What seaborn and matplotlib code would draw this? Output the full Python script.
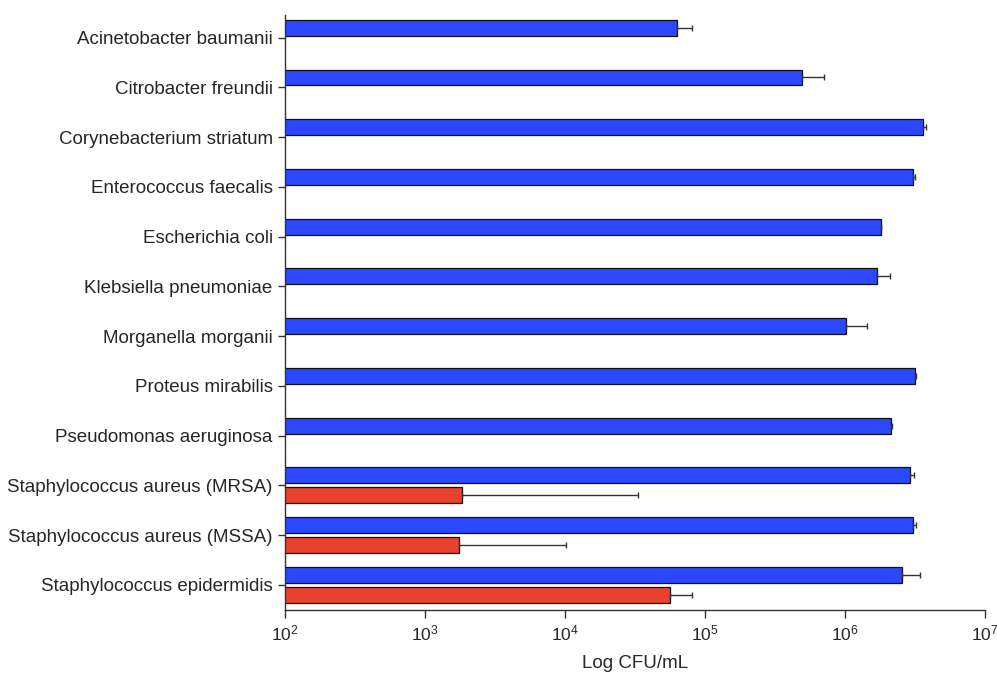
import matplotlib
matplotlib.use('Agg')
import matplotlib.pyplot as plt
import matplotlib.ticker as mticker
import seaborn as sns
import pandas as pd
import numpy as np

# data (CFU/mL), upper error ends
species = ['Acinetobacter baumanii', 'Citrobacter freundii', 'Corynebacterium striatum',
           'Enterococcus faecalis', 'Escherichia coli', 'Klebsiella pneumoniae',
           'Morganella morganii', 'Proteus mirabilis', 'Pseudomonas aeruginosa',
           'Staphylococcus aureus (MRSA)', 'Staphylococcus aureus (MSSA)',
           'Staphylococcus epidermidis']
blue_vals = [6.3e4, 4.9e5, 3.6e6, 3.05e6, 1.8e6, 1.69e6, 1.02e6, 3.14e6, 2.12e6, 2.89e6, 3.05e6, 2.54e6]
blue_upper = [8.0e4, 7.1e5, 3.8e6, 3.16e6, 1.8e6, 2.08e6, 1.44e6, 3.2e6, 2.17e6, 3.09e6, 3.21e6, 3.44e6]
red_species = ['Staphylococcus aureus (MRSA)', 'Staphylococcus aureus (MSSA)', 'Staphylococcus epidermidis']
red_vals = [1.84e3, 1.76e3, 5.6e4]
red_upper = [3.33e4, 1.02e4, 8.0e4]

groups = ['A', 'B']
colors = ['#2B48FF', '#E8412E']

df = pd.concat([
    pd.DataFrame({'species': species, 'group': 'A', 'cfu': blue_vals, 'upper': blue_upper}),
    pd.DataFrame({'species': red_species, 'group': 'B', 'cfu': red_vals, 'upper': red_upper}),
], ignore_index=True)

sns.set_style('ticks')
plt.rcParams['font.family'] = ['Liberation Sans', 'DejaVu Sans']
plt.rcParams['mathtext.default'] = 'regular'

fig = plt.figure(figsize=(9.97, 6.73), dpi=100)
ax = fig.add_axes([0.286, 0.094, 0.702, 0.884])
ax.set_xscale('log')

sns.barplot(data=df, y='species', x='cfu', hue='group', order=species, hue_order=groups,
            palette=colors, saturation=1, orient='h', width=0.8, gap=0.2, errorbar=None,
            edgecolor='#111111', linewidth=0.9, legend=False, ax=ax)

# one-sided error bars, positioned from the drawn bars
for grp, cont in zip(groups, ax.containers):
    sub = df[df['group'] == grp].set_index('species')
    for bar in cont:
        yc = bar.get_y() + bar.get_height() / 2
        name = species[int(round(yc))]
        if name not in sub.index:
            continue
        v = sub.loc[name, 'cfu']
        up = sub.loc[name, 'upper']
        ax.errorbar(v, yc, xerr=[[0], [up - v]], fmt='none', ecolor='#333333',
                    elinewidth=1.0, capsize=2.5, capthick=1.0, zorder=3)

ax.set_xlim(1e2, 1e7)
ax.set_ylim(11.5, -0.46)
ax.xaxis.set_major_locator(mticker.LogLocator(base=10, numticks=10))
ax.xaxis.set_minor_locator(mticker.NullLocator())
ax.tick_params(axis='x', labelsize=12.5, length=6, width=1, color='#333333', pad=4)
ax.tick_params(axis='y', labelsize=13.5, length=5, width=1, color='#333333', pad=4)
ax.set_xlabel('Log CFU/mL', fontsize=13.5, labelpad=8)
ax.set_ylabel('')
for s in ['top', 'right']:
    ax.spines[s].set_visible(False)
for s in ['left', 'bottom']:
    ax.spines[s].set_color('#333333')
    ax.spines[s].set_linewidth(1.0)

fig.savefig('out.png', dpi=100)
